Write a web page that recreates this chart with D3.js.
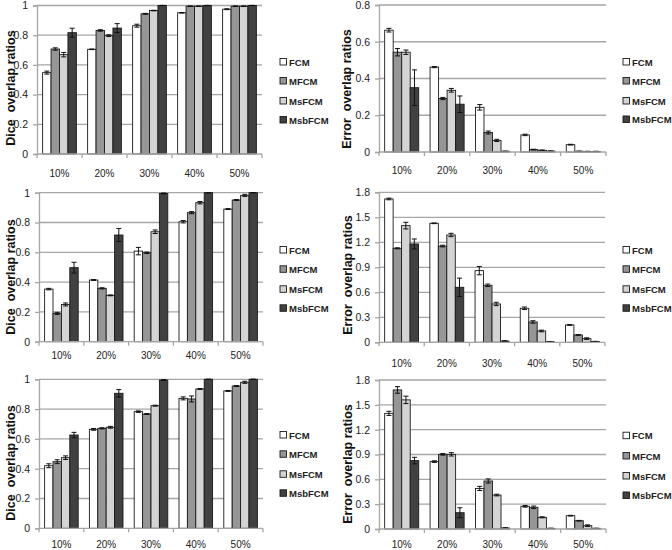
<!DOCTYPE html>
<html>
<head>
<meta charset="utf-8">
<script src="https://cdn.jsdelivr.net/npm/d3@7"></script>
<style>
  html, body { margin: 0; padding: 0; background: #fff; }
  svg { display: block; }
  text { font-family: "Liberation Sans", Arial, sans-serif; }
</style>
</head>
<body>
<svg id="chart" width="672" height="550"></svg>
<script>
// ---------- DATA ----------
const categories = ["10%", "20%", "30%", "40%", "50%"];
const seriesNames = ["FCM", "MFCM", "MsFCM", "MsbFCM"];

const diceTicks = [0, 0.2, 0.4, 0.6, 0.8, 1];
const errorTicksTop = [0, 0.2, 0.4, 0.6, 0.8];
const errorTicks = [0, 0.3, 0.6, 0.9, 1.2, 1.5, 1.8];

// Row 1 – Dice (rows: FCM, MFCM, MsFCM, MsbFCM; columns: categories)
const dice1Values = [
  [0.548, 0.705, 0.864, 0.951, 0.975],
  [0.707, 0.832, 0.944, 0.995, 0.995],
  [0.669, 0.797, 0.966, 0.995, 0.995],
  [0.817, 0.848, 1.000, 1.000, 1.000]
];
const dice1Errors = [
  [0.010, 0.002, 0.010, 0.002, 0.003],
  [0.008, 0.005, 0.003, 0.002, 0.002],
  [0.015, 0.006, 0.002, 0.002, 0.002],
  [0.030, 0.030, 0.001, 0.001, 0.001]
];

// Row 1 – Error
const error1Values = [
  [0.663, 0.462, 0.243, 0.093, 0.040],
  [0.543, 0.291, 0.106, 0.013, 0.004],
  [0.543, 0.336, 0.063, 0.009, 0.003],
  [0.350, 0.260, 0.004, 0.005, 0.003]
];
const error1Errors = [
  [0.010, 0.003, 0.015, 0.004, 0.002],
  [0.020, 0.006, 0.008, 0.002, 0.001],
  [0.012, 0.010, 0.006, 0.002, 0.001],
  [0.097, 0.045, 0.001, 0.001, 0.001]
];

// Row 2 – Dice
const dice2Values = [
  [0.353, 0.414, 0.608, 0.805, 0.890],
  [0.190, 0.358, 0.597, 0.866, 0.951],
  [0.250, 0.311, 0.738, 0.933, 0.982],
  [0.497, 0.716, 0.995, 1.000, 1.000]
];
const dice2Errors = [
  [0.005, 0.003, 0.025, 0.008, 0.003],
  [0.007, 0.004, 0.005, 0.007, 0.003],
  [0.010, 0.003, 0.012, 0.008, 0.007],
  [0.036, 0.044, 0.003, 0.001, 0.001]
];

// Row 2 – Error
const error2Values = [
  [1.720, 1.428, 0.860, 0.408, 0.208],
  [1.128, 1.155, 0.684, 0.244, 0.088],
  [1.400, 1.288, 0.460, 0.136, 0.044],
  [1.180, 0.660, 0.015, 0.008, 0.010]
];
const error2Errors = [
  [0.010, 0.004, 0.050, 0.015, 0.004],
  [0.006, 0.010, 0.015, 0.015, 0.004],
  [0.040, 0.020, 0.020, 0.010, 0.010],
  [0.060, 0.110, 0.004, 0.002, 0.002]
];

// Row 3 – Dice
const dice3Values = [
  [0.420, 0.664, 0.783, 0.872, 0.922],
  [0.447, 0.671, 0.767, 0.868, 0.955],
  [0.474, 0.678, 0.823, 0.935, 0.980],
  [0.626, 0.906, 0.995, 1.000, 1.000]
];
const dice3Errors = [
  [0.013, 0.006, 0.005, 0.010, 0.003],
  [0.013, 0.004, 0.003, 0.020, 0.003],
  [0.012, 0.006, 0.003, 0.003, 0.007],
  [0.018, 0.025, 0.003, 0.001, 0.001]
];

// Row 3 – Error
const error3Values = [
  [1.397, 0.814, 0.490, 0.274, 0.161],
  [1.680, 0.902, 0.580, 0.262, 0.100],
  [1.560, 0.902, 0.410, 0.141, 0.040],
  [0.826, 0.197, 0.012, 0.008, 0.008]
];
const error3Errors = [
  [0.025, 0.010, 0.025, 0.010, 0.004],
  [0.040, 0.010, 0.025, 0.015, 0.004],
  [0.045, 0.020, 0.010, 0.006, 0.010],
  [0.040, 0.060, 0.004, 0.002, 0.002]
];

const diceTitle = "Dice  overlap ratios";
const errorTitle = "Error  overlap ratios";

// ---------- STYLE / LAYOUT ----------
const colors = ["#ffffff", "#969696", "#d4d4d4", "#414141"];
const gridColor = "#a6a6a6";

const panels = [
  { values: dice1Values, errors: dice1Errors, ticks: diceTicks, max: 1, fmt: d => d === 0 ? "0" : d === 1 ? "1" : d.toFixed(1), title: diceTitle,
    x0: 37, x1: 262, yTop: 5.5, yBot: 154, labelY: 176.5, titleX: 11, titleY: 88, legX: 280, legY: [62, 81, 101, 120] },
  { values: error1Values, errors: error1Errors, ticks: errorTicksTop, max: 0.8, fmt: d => d === 0 ? "0" : d.toFixed(1), title: errorTitle,
    x0: 379, x1: 606, yTop: 5, yBot: 152, labelY: 173.5, titleX: 347, titleY: 89, legX: 623, legY: [62, 81, 101, 119.5] },
  { values: dice2Values, errors: dice2Errors, ticks: diceTicks, max: 1, fmt: d => d === 0 ? "0" : d === 1 ? "1" : d.toFixed(1), title: diceTitle,
    x0: 39, x1: 263, yTop: 192.7, yBot: 341.7, labelY: 358.5, titleX: 11, titleY: 277, legX: 280, legY: [250, 269.3, 289.3, 308.3] },
  { values: error2Values, errors: error2Errors, ticks: errorTicks, max: 1.8, fmt: d => d === 0 ? "0" : d.toFixed(1), title: errorTitle,
    x0: 379, x1: 605, yTop: 192.3, yBot: 342.3, labelY: 366.5, titleX: 348, titleY: 275, legX: 623, legY: [250, 269.3, 289.3, 308.3] },
  { values: dice3Values, errors: dice3Errors, ticks: diceTicks, max: 1, fmt: d => d === 0 ? "0" : d === 1 ? "1" : d.toFixed(1), title: diceTitle,
    x0: 39, x1: 263, yTop: 379.3, yBot: 528.3, labelY: 548, titleX: 11, titleY: 463, legX: 280, legY: [435, 454.3, 474.3, 493.3] },
  { values: error3Values, errors: error3Errors, ticks: errorTicks, max: 1.8, fmt: d => d === 0 ? "0" : d.toFixed(1), title: errorTitle,
    x0: 379, x1: 606, yTop: 380, yBot: 529, labelY: 548, titleX: 348, titleY: 464, legX: 623, legY: [435.7, 456, 476, 495.5] }
];

const svg = d3.select("#chart");

panels.forEach(p => {
  const g = svg.append("g");
  const x = d3.scaleBand().domain(categories).range([p.x0, p.x1]).padding(0);
  const bw = x.bandwidth();
  const xs = d3.scaleBand().domain(seriesNames).range([bw * 0.125, bw * 0.875]).padding(0);
  const y = d3.scaleLinear().domain([0, p.max]).range([p.yBot, p.yTop]);

  // gridlines
  g.append("g").selectAll("line").data(p.ticks.filter(t => t > 0)).join("line")
    .attr("x1", p.x0).attr("x2", p.x1)
    .attr("y1", d => y(d)).attr("y2", d => y(d))
    .attr("stroke", gridColor).attr("stroke-width", 1.3);

  // y axis
  const yAxis = d3.axisLeft(y).tickValues(p.ticks).tickSize(4).tickPadding(5).tickFormat(p.fmt);
  const ya = g.append("g").attr("transform", `translate(${p.x0},0)`).call(yAxis);
  ya.select(".domain").attr("stroke", gridColor).attr("stroke-width", 1.3);
  ya.selectAll(".tick line").attr("stroke", gridColor).attr("stroke-width", 1.3);
  ya.selectAll(".tick text").attr("font-size", 10.5).attr("fill", "#222")
    .attr("font-family", "'Liberation Sans', Arial, sans-serif");

  // bars
  seriesNames.forEach((s, si) => {
    const grp = g.append("g");
    grp.selectAll("rect").data(categories).join("rect")
      .attr("x", (c) => x(c) + xs(s))
      .attr("width", xs.bandwidth())
      .attr("y", (c, ci) => y(p.values[si][ci]))
      .attr("height", (c, ci) => Math.max(0, y(0) - y(p.values[si][ci])))
      .attr("fill", colors[si])
      .attr("stroke", "#1a1a1a")
      .attr("stroke-width", 0.9);
    // error bars
    const eb = g.append("g").attr("stroke", "#111").attr("stroke-width", 1);
    categories.forEach((c, ci) => {
      const v = p.values[si][ci], e = p.errors[si][ci];
      const cx = x(c) + xs(s) + xs.bandwidth() / 2;
      const yHi = y(v + e), yLo = y(v - e);
      eb.append("line").attr("x1", cx).attr("x2", cx).attr("y1", yHi).attr("y2", yLo);
      eb.append("line").attr("x1", cx - 2.5).attr("x2", cx + 2.5).attr("y1", yHi).attr("y2", yHi);
      eb.append("line").attr("x1", cx - 2.5).attr("x2", cx + 2.5).attr("y1", yLo).attr("y2", yLo);
    });
  });

  // x axis
  const xa = g.append("g");
  xa.append("line").attr("x1", p.x0).attr("x2", p.x1).attr("y1", p.yBot).attr("y2", p.yBot)
    .attr("stroke", gridColor).attr("stroke-width", 1.3);
  const bounds = categories.map(c => x(c)).concat([p.x1]);
  xa.selectAll("line.tk").data(bounds).join("line").attr("class", "tk")
    .attr("x1", d => d).attr("x2", d => d).attr("y1", p.yBot).attr("y2", p.yBot + 4)
    .attr("stroke", gridColor).attr("stroke-width", 1.3);
  xa.selectAll("text").data(categories).join("text")
    .attr("x", d => x(d) + bw / 2).attr("y", p.labelY)
    .attr("text-anchor", "middle").attr("font-size", 10).attr("fill", "#222")
    .text(d => d);

  // y title
  g.append("text")
    .attr("transform", `translate(${p.titleX + 4},${p.titleY}) rotate(-90)`)
    .attr("text-anchor", "middle").attr("font-size", 12.5).attr("font-weight", "bold")
    .attr("fill", "#111").attr("xml:space", "preserve").style("white-space", "pre")
    .text(p.title);

  // legend
  const lg = g.append("g");
  seriesNames.forEach((s, si) => {
    lg.append("rect").attr("x", p.legX).attr("y", p.legY[si] - 3.5).attr("width", 6.5).attr("height", 6.5)
      .attr("fill", colors[si]).attr("stroke", "#1a1a1a").attr("stroke-width", 0.9);
    lg.append("text").attr("x", p.legX + 9).attr("y", p.legY[si] + 3.5)
      .attr("font-size", 9.5).attr("font-weight", "bold").attr("fill", "#222").text(s);
  });
});
</script>
</body>
</html>
